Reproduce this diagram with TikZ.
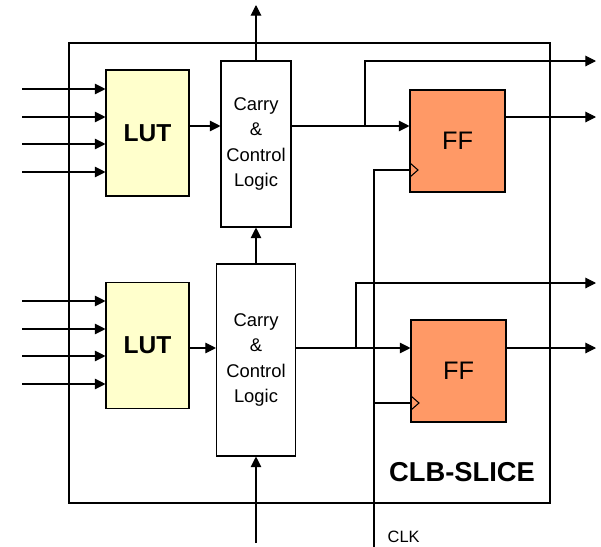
\documentclass[tikz,border=0pt]{standalone}
\usepackage{fontspec}
\setmainfont{Liberation Sans}
\usetikzlibrary{arrows.meta}

\definecolor{lutyellow}{RGB}{255,255,204}
\definecolor{fforange}{RGB}{255,153,102}
\newlength\pix
\setlength\pix{0.75pt}

\tikzset{
  slicebox/.style={draw,line width=0.8pt,inner sep=0pt,
    minimum width=481\pix,minimum height=460\pix},
  lutbox/.style={draw,line width=0.8pt,fill=lutyellow,inner sep=0pt,
    minimum width=83\pix,minimum height=126\pix,
    font=\bfseries\fontsize{18.4}{22}\selectfont},
  ccbox/.style={draw,line width=0.8pt,inner sep=0pt,align=center,
    font=\fontsize{13.8}{19}\selectfont},
  ffbox/.style={draw,line width=0.8pt,fill=fforange,inner sep=0pt,
    minimum width=95\pix,minimum height=102\pix,
    font=\fontsize{19}{22}\selectfont},
  wire/.style={line width=0.8pt}
}

\begin{document}
\begin{tikzpicture}[x=0.75pt,y=-0.75pt,>={Triangle[length=8pt,width=8pt]}]
    \useasboundingbox (0,0) rectangle (601,547);
    \node[slicebox] (slice) at (309.5,273) {};
    \node[lutbox] (lutA) at (147.5,133) {LUT};
    \node[lutbox] (lutB) at (147.5,345.5) {LUT};
    \node[ccbox,minimum width=70\pix,minimum height=166\pix] (ccA)
      at (256,144) {Carry\\\&\\Control\\Logic};
    \node[ccbox,minimum width=79\pix,minimum height=192\pix] (ccB)
      at (256,360) {Carry\\\&\\Control\\Logic};
    \node[ffbox] (ffA) at (457.5,141) {FF};
    \node[ffbox] (ffB) at (458.5,371) {FF};
    \node[font=\bfseries\fontsize{20.5}{24}\selectfont] (slicename)
      at (462,472) {CLB-SLICE};
    \node[anchor=west,font=\fontsize{12.3}{15}\selectfont] (clkname)
      at (383,537) {CLK};

    % LUT inputs
    \foreach \y [count=\i] in {89,117,144,172} {
      \coordinate (inA\i) at (22,\y);
      \draw[wire,->] (inA\i) -- (inA\i -| lutA.west);
    }
    \foreach \y [count=\i] in {301,329,356,384} {
      \coordinate (inB\i) at (22,\y);
      \draw[wire,->] (inB\i) -- (inB\i -| lutB.west);
    }

    % upper row
    \coordinate (rowA) at (365,126);
    \coordinate (outA) at (596,61);
    \coordinate (qA) at (596,117);
    \draw[wire,->] (lutA.east |- rowA) -- (ccA.west |- rowA);
    \draw[wire,->] (ccA.east |- rowA) -- (ffA.west |- rowA);
    \draw[wire,->] (rowA) |- (outA);
    \draw[wire,->] (ffA.east |- qA) -- (qA);

    % lower row
    \coordinate (rowB) at (356,348);
    \coordinate (outB) at (596,283);
    \coordinate (qB) at (596,348);
    \draw[wire,->] (lutB.east |- rowB) -- (ccB.west |- rowB);
    \draw[wire,->] (ccB.east |- rowB) -- (ffB.west |- rowB);
    \draw[wire,->] (rowB) |- (outB);
    \draw[wire,->] (ffB.east |- qB) -- (qB);

    % carry chain
    \coordinate (coutA) at (256,5);
    \coordinate (cinB) at (256,543);
    \draw[wire,->] (ccA.north) -- (coutA);
    \draw[wire,->] (ccB.north) -- (ccA.south);
    \draw[wire,->] (cinB) -- (ccB.south);

    % clock
    \coordinate (clk) at (374,547);
    \coordinate (ckA) at (410,170);
    \coordinate (ckB) at (411,403);
    \draw[wire] (clk) |- (ckA);
    \draw[wire] (clk |- ckB) -- (ckB);
    \draw[wire] (ckA) ++(0,-7) -- ++(8,7) -- ++(-8,7);
    \draw[wire] (ckB) ++(0,-7) -- ++(8,7) -- ++(-8,7);
  \end{tikzpicture}
\end{document}
